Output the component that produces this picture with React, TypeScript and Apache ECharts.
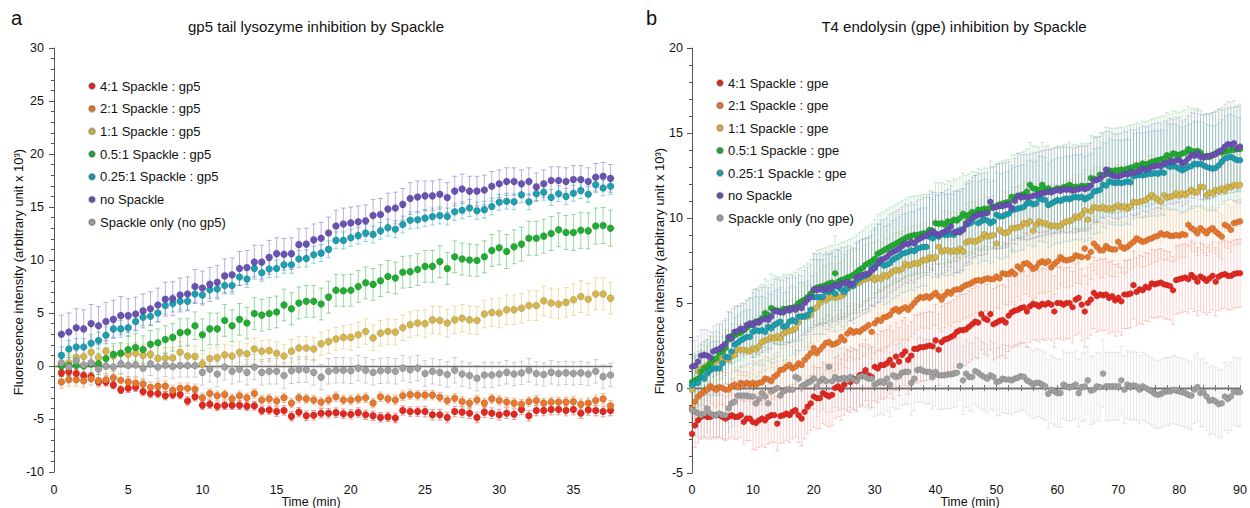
import React, { useEffect, useRef } from "react";
import * as echarts from "echarts";

const FONT = '"Liberation Sans", Arial, Helvetica, sans-serif';

const LABELS_A = ["4:1 Spackle : gp5", "2:1 Spackle : gp5", "1:1 Spackle : gp5", "0.5:1 Spackle : gp5", "0.25:1 Spackle : gp5", "no Spackle", "Spackle only (no gp5)"];
const LABELS_B = ["4:1 Spackle : gpe", "2:1 Spackle : gpe", "1:1 Spackle : gpe", "0.5:1 Spackle : gpe", "0.25:1 Spackle : gpe", "no Spackle", "Spackle only (no gpe)"];

const X_TICKS_A = [0, 5, 10, 15, 20, 25, 30, 35];
const X_TICKS_B = [0, 10, 20, 30, 40, 50, 60, 70, 80, 90];

// sampling times (min): panel a every 0.5 min from 0.5, panel b every 0.5 min from 0
const TIME_A = Array.from({ length: 75 }, (_, i) => 0.5 * (i + 1));
const TIME_B = Array.from({ length: 181 }, (_, i) => 0.5 * i);

// ---------- panel a values ----------
const A_RED = [
  -0.65, -0.55, -0.7, -0.9, -1.0, -1.5, -1.5, -1.8, -2.25, -2.1,
  -2.0, -2.4, -2.6, -2.6, -2.8, -2.7, -2.7, -3.3, -2.9, -3.7,
  -3.6, -3.8, -3.7, -3.7, -3.7, -3.8, -3.75, -4.2, -4.15, -4.3,
  -4.2, -4.75, -4.35, -4.7, -4.65, -4.45, -4.45, -4.4, -4.5, -4.55,
  -4.4, -4.6, -4.7, -4.85, -4.8, -4.9, -4.2, -4.3, -4.3, -4.3,
  -4.6, -4.6, -4.85, -4.3, -4.35, -4.45, -4.85, -4.35, -4.45, -4.6,
  -4.45, -4.55, -4.1, -4.7, -4.2, -4.2, -4.1, -4.1, -4.2, -4.1,
  -4.45, -4.15, -4.2, -4.3, -4.2,
];
const A_ORANGE = [
  -1.5, -1.3, -1.3, -1.4, -1.2, -1.4, -1.3, -1.1, -1.35, -1.5,
  -1.6, -1.7, -2.0, -1.9, -1.9, -2.3, -2.1, -2.1, -2.2, -3.0,
  -2.6, -2.8, -2.7, -3.1, -2.8, -3.0, -2.6, -3.2, -3.1, -3.3,
  -3.0, -3.5, -3.0, -3.1, -3.2, -3.4, -3.2, -2.9, -3.2, -3.2,
  -3.1, -3.0, -3.5, -2.9, -3.1, -3.2, -2.8, -2.7, -2.75, -2.75,
  -2.75, -2.95, -3.25, -3.05, -3.35, -3.5, -3.2, -3.5, -3.1, -3.25,
  -3.4, -3.5, -3.6, -3.35, -3.25, -3.5, -3.4, -3.4, -3.4, -3.35,
  -3.6, -3.5, -3.25, -3.1, -3.75,
];
const A_YELLOW = [
  0.1, 0.3, 0.8, 0.9, 1.3, 0.8, 1.4, 0.95, 1.2, 1.1,
  1.2, 1.0, 1.1, 0.7, 0.75, 0.75, 1.3, 0.95, 0.9, 0.2,
  0.7, 0.8, 1.05, 0.95, 1.3, 1.15, 1.6, 1.4, 1.45, 1.2,
  0.95, 1.4, 1.7, 1.7, 1.6, 2.1, 2.3, 2.55, 2.7, 2.7,
  2.95, 3.25, 2.65, 3.1, 3.25, 3.2, 3.6, 3.9, 4.05, 4.0,
  4.35, 4.3, 4.05, 4.35, 4.5, 4.35, 4.3, 4.9, 5.05, 5.0,
  5.3, 5.3, 5.45, 5.7, 5.7, 6.15, 5.95, 5.85, 6.0, 6.25,
  6.55, 6.3, 6.8, 6.8, 6.4,
];
const A_GREEN = [
  0.0, 0.05, 0.05, 0.0, 0.2, 0.2, 0.7, 1.1, 1.2, 1.55,
  1.75, 1.55, 2.05, 2.2, 2.5, 2.7, 3.15, 3.2, 3.8, 2.95,
  3.5, 3.5, 4.3, 3.8, 4.4, 4.05, 4.95, 4.8, 4.95, 5.1,
  5.75, 5.4, 5.95, 6.1, 6.1, 5.85, 6.5, 7.15, 7.1, 7.15,
  7.5, 7.85, 7.7, 8.05, 8.45, 8.3, 8.85, 8.9, 9.1, 9.4,
  9.4, 9.85, 9.2, 10.3, 10.1, 10.0, 9.95, 10.3, 10.9, 11.15,
  10.8, 11.25, 11.5, 12.05, 12.05, 12.25, 12.5, 12.85, 12.6, 12.6,
  12.8, 12.75, 13.2, 13.25, 13.0,
];
const A_TEAL = [
  1.0, 1.6, 1.8, 1.8, 2.15, 2.4, 2.9, 3.5, 3.5, 3.6,
  4.2, 4.6, 4.7, 5.0, 5.7, 5.9, 6.1, 6.1, 6.8, 6.7,
  7.2, 7.26, 7.6, 7.6, 8.4, 8.2, 9.2, 8.8, 9.15, 9.2,
  9.55, 9.55, 10.1, 10.15, 10.5, 10.65, 11.0, 11.85, 11.85, 12.1,
  12.3, 12.55, 12.4, 12.75, 13.05, 12.9, 13.35, 13.75, 13.8, 13.95,
  14.1, 14.2, 14.1, 14.55, 14.7, 14.9, 14.65, 14.75, 15.05, 15.45,
  15.55, 15.5, 16.15, 15.5, 16.25, 16.4, 15.9, 16.25, 16.0, 16.3,
  16.55, 16.2, 17.1, 16.8, 16.95,
];
const A_PURPLE = [
  3.0, 3.2, 3.6, 3.5, 4.0, 3.8, 4.2, 4.4, 4.75, 4.75,
  4.9, 5.2, 5.4, 5.75, 6.3, 6.35, 6.7, 6.8, 7.5, 7.35,
  7.7, 7.9, 8.5, 8.6, 9.2, 9.3, 9.8, 9.8, 10.25, 10.6,
  10.55, 10.6, 11.45, 11.5, 11.9, 12.05, 12.55, 13.2, 13.4, 13.5,
  13.6, 13.7, 14.2, 14.3, 14.8, 14.9, 15.25, 15.8, 15.95, 16.05,
  16.05, 16.2, 15.9, 16.5, 16.7, 16.5, 16.5, 16.6, 16.95, 17.2,
  17.4, 17.4, 17.2, 17.4, 16.9, 17.2, 17.5, 17.5, 17.4, 17.6,
  17.6, 17.4, 17.8, 17.9, 17.7,
];
const A_GRAY = [
  0.3, -0.1, 0.5, 0.1, 0.3, -0.3, 0.0, -0.1, 0.2, 0.05,
  0.1, -0.2, 0.2, -0.1, 0.1, -0.05, 0.05, 0.05, 0.05, -0.6,
  -0.3, -0.75, -0.1, -0.5, -0.3, -0.6, -0.1, -0.6, -0.5, -0.5,
  -0.9, -0.45, -0.35, -0.35, -0.6, -1.05, -0.5, -0.4, -0.4, -0.45,
  -0.2, -0.4, -0.6, -0.45, -0.4, -0.5, -0.2, -0.35, -0.2, -0.7,
  -0.5, -0.6, -0.8, -0.4, -0.75, -0.9, -1.15, -0.85, -0.85, -0.75,
  -0.6, -0.75, -0.65, -0.4, -0.7, -0.8, -0.6, -0.7, -0.65, -0.7,
  -0.65, -0.75, -0.5, -1.0, -0.85,
];

// panel a error (SD) read per 5-min span: 0-5,5-10,...,35-40
const A_ERR_RED = [0.35, 0.4, 0.4, 0.45, 0.45, 0.5, 0.5, 0.5];
const A_ERR_ORANGE = [0.6, 0.5, 0.45, 0.45, 0.45, 0.45, 0.45, 0.5];
const A_ERR_YELLOW = [0.9, 1.0, 1.0, 1.1, 1.2, 1.3, 1.4, 1.5];
const A_ERR_GREEN = [1.0, 1.3, 1.5, 1.5, 1.5, 1.5, 1.6, 1.7];
const A_ERR_TEAL = [0.8, 0.8, 0.8, 0.8, 0.8, 0.8, 0.75, 0.75];
const A_ERR_PURPLE = [1.8, 1.6, 1.6, 1.5, 1.5, 1.4, 1.3, 1.3];
const A_ERR_GRAY = [0.9, 1.1, 1.2, 1.2, 1.2, 1.2, 1.1, 1.1];

// ---------- panel b values ----------
const B_RED = [
  -2.7, -2.2, -1.9, -1.7, -1.6, -1.7, -1.7, -1.6, -1.6, -1.6,
  -1.7, -1.8, -1.7, -1.6, -1.7, -1.7, -1.6, -2.0, -1.8, -1.8,
  -2.0, -2.05, -1.9, -1.8, -1.9, -1.7, -1.6, -1.6, -2.1, -1.65,
  -1.6, -1.5, -1.6, -1.4, -1.3, -1.6, -1.8, -1.4, -1.1, -0.9,
  -0.5, -0.6, -0.6, -0.3, -0.4, -0.5, -0.4, 0.0, 0.1, -0.1,
  0.2, 0.45, 0.35, 0.55, 0.45, 0.75, 0.8, 1.05, 0.75, 0.65,
  1.25, 1.15, 1.35, 1.35, 1.45, 1.65, 1.35, 1.85, 1.55, 1.95,
  2.15, 1.65, 1.9, 2.3, 2.3, 2.4, 2.4, 2.45, 2.5, 2.45,
  2.8, 2.25, 2.7, 2.85, 2.9, 3.0, 3.1, 3.3, 3.4, 3.4,
  3.45, 3.6, 3.75, 3.9, 3.85, 4.35, 4.1, 4.0, 4.35, 3.75,
  3.85, 3.95, 4.0, 3.85, 4.25, 4.45, 4.55, 4.6, 4.7, 4.75,
  4.5, 4.8, 4.95, 4.9, 4.8, 4.95, 4.9, 5.0, 4.9, 4.5,
  5.0, 5.0, 4.9, 5.0, 5.0, 4.75, 5.2, 5.3, 4.9, 4.5,
  5.0, 5.2, 5.6, 5.4, 5.5, 5.45, 5.5, 5.3, 5.4, 5.15,
  5.3, 5.1, 5.5, 5.5, 5.55, 6.05, 5.65, 5.8, 5.75, 5.95,
  5.9, 6.15, 6.1, 6.15, 6.2, 6.1, 6.05, 6.0, 5.75, 6.35,
  6.4, 6.45, 6.5, 6.4, 6.65, 6.5, 6.25, 6.55, 6.45, 6.3,
  6.45, 6.6, 6.25, 6.55, 6.65, 6.7, 6.6, 6.6, 6.7, 6.75,
  6.75,
];
const B_ORANGE = [
  -1.2, -0.8, -0.5, -0.35, -0.2, -0.1, 0.1, 0.0, -0.1, 0.05,
  0.0, -0.1, -0.1, 0.1, 0.2, 0.05, 0.3, 0.2, 0.3, 0.2,
  0.3, 0.2, 0.3, 0.35, 0.55, 0.5, 0.4, 0.65, 0.8, 1.05,
  1.1, 1.25, 1.35, 1.15, 1.25, 1.45, 1.35, 1.65, 1.85, 2.05,
  2.35, 2.05, 2.25, 2.45, 2.65, 2.7, 2.55, 2.6, 2.7, 3.0,
  2.8, 3.2, 3.4, 3.25, 3.35, 3.3, 3.45, 3.55, 3.7, 3.3,
  3.8, 4.0, 3.95, 4.15, 4.2, 4.3, 4.55, 4.65, 4.5, 4.65,
  4.75, 4.6, 4.8, 5.0, 5.2, 5.35, 5.3, 5.4, 5.3, 5.45,
  5.6, 5.4, 5.2, 5.45, 5.65, 5.55, 5.75, 5.8, 5.8, 5.95,
  6.05, 6.1, 6.2, 6.3, 6.35, 6.3, 6.4, 6.45, 6.4, 6.4,
  6.55, 6.45, 6.75, 6.7, 6.7, 6.85, 6.7, 7.15, 7.0, 7.3,
  7.35, 7.2, 7.0, 7.1, 7.35, 7.45, 7.35, 7.45, 7.1, 7.3,
  7.45, 7.7, 7.55, 7.5, 7.55, 7.6, 7.8, 7.75, 7.7, 8.2,
  7.7, 8.0, 8.5, 8.3, 8.1, 8.1, 8.35, 8.2, 8.15, 8.15,
  8.6, 8.3, 8.2, 8.3, 8.45, 8.6, 8.8, 8.7, 8.6, 8.65,
  8.75, 8.8, 8.9, 8.95, 9.1, 9.0, 9.05, 8.95, 8.95, 9.0,
  8.95, 9.05, 9.0, 9.6, 9.4, 9.3, 9.1, 9.4, 9.25, 9.1,
  9.3, 9.4, 9.2, 9.05, 8.9, 9.6, 9.5, 9.3, 9.7, 9.75,
  9.8,
];
const B_YELLOW = [
  -0.1, 0.35, 0.95, 1.15, 1.25, 1.35, 1.55, 1.5, 1.55, 1.75,
  1.65, 1.75, 1.65, 1.85, 1.95, 2.25, 2.25, 2.25, 2.2, 2.15,
  2.35, 2.25, 2.45, 2.7, 2.8, 2.85, 3.0, 2.9, 3.05, 2.9,
  3.2, 3.3, 3.35, 3.4, 3.5, 3.85, 4.2, 4.25, 4.2, 4.3,
  4.65, 4.75, 5.0, 5.2, 5.15, 5.3, 5.35, 5.3, 5.35, 5.4,
  5.55, 5.85, 5.95, 6.05, 6.15, 6.2, 6.35, 6.4, 6.45, 6.55,
  6.35, 6.5, 6.4, 6.65, 6.55, 6.7, 6.85, 6.95, 6.9, 7.0,
  7.3, 7.2, 7.25, 7.35, 7.3, 7.4, 7.55, 7.5, 7.7, 7.6,
  7.7, 8.3, 8.0, 8.1, 8.1, 8.0, 8.1, 8.0, 8.2, 8.05,
  8.55, 8.65, 8.65, 8.6, 8.7, 8.8, 9.05, 8.9, 8.95, 9.0,
  8.5, 9.3, 9.15, 9.1, 9.2, 9.4, 9.4, 9.45, 9.5, 9.7,
  9.65, 9.8, 9.25, 9.6, 9.8, 9.7, 9.7, 9.6, 9.5, 9.55,
  9.5, 9.55, 9.7, 9.8, 9.8, 9.9, 10.1, 10.0, 10.2, 10.45,
  9.9, 10.4, 10.65, 10.6, 10.55, 10.65, 10.5, 10.6, 10.5, 10.65,
  10.75, 10.6, 10.7, 10.55, 10.7, 10.95, 10.9, 10.95, 11.0, 11.05,
  11.2, 11.35, 11.2, 11.1, 10.95, 11.35, 11.2, 11.25, 11.3, 11.45,
  11.3, 11.45, 11.35, 11.5, 11.65, 11.5, 11.55, 11.85, 11.8, 11.35,
  11.5, 11.45, 11.65, 11.6, 11.75, 11.6, 11.85, 11.8, 11.95, 11.9,
  11.95,
];
const B_GREEN = [
  0.35, 0.45, 0.55, 0.95, 1.15, 1.25, 1.45, 1.65, 1.75, 2.05,
  2.15, 2.35, 2.85, 3.05, 3.1, 3.2, 3.25, 3.4, 3.55, 3.7,
  3.8, 3.85, 3.95, 4.1, 4.4, 4.3, 4.7, 4.6, 4.55, 4.5,
  4.65, 4.65, 4.7, 4.7, 4.8, 5.0, 5.1, 5.2, 5.35, 5.55,
  5.75, 5.9, 5.95, 6.0, 6.05, 6.15, 6.2, 6.75, 6.25, 6.35,
  6.4, 6.5, 6.55, 6.65, 6.8, 6.95, 7.05, 7.25, 7.35, 7.45,
  7.6, 7.9, 8.0, 8.1, 8.2, 8.3, 8.4, 8.5, 8.6, 8.7,
  8.8, 8.9, 8.95, 9.0, 9.0, 9.05, 9.1, 9.1, 9.3, 9.25,
  9.7, 9.65, 9.7, 9.6, 9.8, 9.75, 9.9, 9.85, 10.0, 10.25,
  10.1, 10.2, 10.35, 10.3, 10.5, 10.45, 10.55, 10.5, 10.6, 10.65,
  10.7, 10.8, 10.85, 10.9, 10.95, 11.25, 11.2, 11.3, 11.35, 11.4,
  11.55, 11.95, 11.75, 11.7, 11.65, 11.95, 11.7, 11.75, 11.6, 11.65,
  11.75, 11.7, 11.8, 11.85, 11.95, 11.8, 11.85, 11.75, 11.9, 11.85,
  11.9, 12.35, 12.3, 12.25, 12.55, 12.5, 12.6, 12.8, 12.75, 12.8,
  12.8, 12.85, 12.8, 12.9, 12.95, 13.0, 13.1, 13.05, 13.2, 13.15,
  13.2, 13.3, 13.35, 13.4, 13.45, 13.5, 13.7, 13.6, 13.8, 13.75,
  13.7, 13.8, 13.85, 14.05, 13.95, 13.9, 13.95, 13.85, 13.6, 13.65,
  13.6, 13.7, 13.8, 13.9, 13.85, 13.9, 13.95, 14.0, 14.0, 14.05,
  14.05,
];
const B_TEAL = [
  0.15, 0.3, 0.3, 0.65, 0.55, 0.85, 1.05, 1.15, 1.15, 1.15,
  1.45, 1.85, 1.8, 2.15, 2.55, 2.65, 2.8, 2.9, 3.0, 3.0,
  3.3, 3.4, 3.35, 3.4, 3.3, 3.6, 3.5, 3.7, 3.8, 3.9,
  3.6, 3.65, 3.9, 4.0, 3.9, 4.2, 4.2, 4.2, 4.3, 4.6,
  5.35, 5.35, 5.35, 5.35, 5.65, 5.65, 5.75, 5.55, 5.95, 5.8,
  5.65, 5.85, 6.15, 6.0, 6.3, 6.45, 6.55, 6.6, 6.7, 7.05,
  7.15, 7.3, 7.35, 7.2, 7.25, 7.35, 7.55, 7.65, 7.75, 7.9,
  7.95, 8.0, 8.1, 8.05, 8.2, 8.25, 8.3, 8.3, 8.9, 8.8,
  8.95, 8.9, 9.1, 9.0, 9.0, 9.05, 9.0, 9.2, 9.3, 9.35,
  9.7, 9.65, 9.75, 10.1, 9.7, 9.8, 9.9, 9.85, 9.7, 9.8,
  10.2, 10.1, 10.1, 10.2, 10.25, 10.45, 10.5, 10.55, 10.6, 10.65,
  10.85, 10.9, 10.8, 10.85, 11.15, 11.1, 11.05, 10.75, 10.85, 10.95,
  11.05, 11.0, 11.1, 11.15, 11.1, 11.2, 11.25, 11.2, 11.25, 11.1,
  11.2, 11.3, 11.55, 11.6, 11.65, 11.95, 11.9, 12.15, 12.1, 12.05,
  12.1, 12.05, 12.1, 12.15, 12.1, 12.45, 12.5, 12.55, 12.5, 12.55,
  12.6, 12.6, 12.65, 12.6, 12.7, 12.65, 13.1, 13.0, 13.05, 13.0,
  12.9, 12.8, 12.9, 13.0, 13.05, 13.2, 13.15, 13.2, 13.1, 13.0,
  12.95, 12.9, 12.95, 13.1, 13.3, 13.5, 13.55, 13.6, 13.5, 13.4,
  13.4,
];
const B_PURPLE = [
  1.25, 1.3, 1.55, 1.9, 1.95, 1.9, 1.8, 2.15, 2.25, 2.3,
  2.45, 2.6, 3.0, 2.9, 3.3, 3.35, 3.5, 3.45, 3.7, 3.8,
  3.7, 3.9, 3.85, 4.0, 4.1, 4.0, 4.2, 4.5, 4.5, 4.45,
  4.45, 4.6, 4.55, 4.7, 4.6, 4.75, 4.7, 5.0, 5.2, 5.35,
  5.8, 5.75, 5.85, 5.75, 5.9, 5.8, 5.95, 6.05, 6.0, 6.15,
  6.15, 6.25, 6.05, 6.15, 6.5, 6.55, 6.65, 6.7, 6.75, 6.9,
  7.05, 7.35, 7.55, 7.6, 7.7, 7.9, 8.0, 8.1, 8.2, 8.35,
  8.5, 8.45, 8.6, 8.5, 8.7, 8.8, 8.9, 8.95, 9.1, 9.2,
  9.1, 9.0, 9.1, 9.2, 9.3, 9.5, 9.15, 9.2, 9.15, 9.3,
  9.6, 9.8, 10.0, 10.1, 10.2, 10.2, 10.25, 10.3, 10.95, 10.6,
  10.65, 10.7, 10.7, 10.75, 10.8, 10.6, 11.0, 11.3, 11.2, 11.25,
  11.2, 11.25, 11.3, 11.35, 11.4, 11.45, 11.5, 11.55, 11.5, 11.6,
  11.65, 11.6, 11.7, 11.65, 11.7, 11.6, 11.65, 11.7, 11.75, 11.7,
  11.75, 11.9, 12.2, 12.25, 12.3, 12.5, 12.85, 12.6, 12.5, 12.45,
  12.45, 12.5, 12.6, 12.55, 12.7, 12.65, 12.7, 12.8, 12.9, 12.85,
  12.9, 13.0, 13.05, 13.1, 13.05, 13.2, 13.25, 13.35, 13.3, 13.4,
  13.4, 13.2, 13.3, 13.5, 13.7, 13.65, 13.8, 13.6, 13.55, 13.6,
  13.65, 13.7, 13.75, 13.9, 14.0, 14.2, 14.35, 14.3, 14.4, 14.1,
  14.2,
];
const B_GRAY = [
  -1.3, -1.4, -1.5, -1.6, -1.5, -1.2, -1.5, -1.6, -1.6, -1.5,
  -1.6, -1.6, -1.2, -0.9, -0.8, -0.45, -0.45, -0.45, -0.45, -0.5,
  -0.5, -0.9, -0.65, -0.3, -0.5, -0.9, -0.2, -0.1, 0.0, -0.45,
  -0.2, -0.1, -0.1, -0.1, 0.65, 0.55, 0.1, 0.2, 0.3, 0.4,
  0.55, 0.1, 0.4, 0.55, 0.4, 1.25, 0.4, 0.65, 0.5, 0.55,
  0.6, 0.45, 0.65, 0.5, 0.4, 0.65, 0.7, 0.65, 0.55, 0.55,
  0.2, 0.3, 0.4, 0.3, 0.55, 0.2, 0.75, 0.65, 0.7, 0.9,
  0.95, 0.95, 0.3, 0.55, 1.05, 1.1, 1.0, 0.95, 0.95, 0.65,
  0.95, 0.75, 0.75, 0.75, 0.8, 0.8, 0.85, 0.9, 1.3, 0.45,
  0.85, 0.65, 0.65, 1.0, 0.9, 0.75, 0.65, 0.55, 0.75, 0.65,
  0.35, 0.4, 0.55, 0.5, 0.5, 0.45, 0.55, 0.6, 0.7, 0.65,
  0.45, 0.35, 0.2, 0.3, 0.3, 0.2, 0.1, -0.35, -0.1, -0.2,
  -0.3, -0.3, 0.2, 0.1, 0.05, 0.1, 0.2, -0.3, 0.05, 0.1,
  0.45, -0.15, -0.1, 0.1, 0.05, 0.85, 0.1, 0.1, 0.1, 0.1,
  0.1, 0.45, -0.1, 0.2, 0.1, 0.15, 0.1, -0.1, 0.1, 0.0,
  -0.1, -0.2, -0.35, -0.4, -0.35, -0.25, -0.2, -0.2, -0.1, -0.15,
  -0.2, -0.25, -0.3, -0.4, -0.45, -0.1, 0.05, -0.3, -0.25, -0.5,
  -0.75, -0.7, -0.8, -0.95, -0.9, -0.5, -0.65, -0.5, -0.2, -0.25,
  -0.25,
];

// panel b error (SD) read per 10-min span: 0-10,...,80-90
const B_ERR_RED = [1.3, 1.6, 1.8, 2.0, 2.1, 2.1, 2.1, 2.0, 2.0, 2.0];
const B_ERR_ORANGE = [1.0, 1.3, 1.6, 1.8, 1.9, 1.8, 1.6, 1.5, 1.3, 1.3];
const B_ERR_YELLOW = [1.5, 1.8, 2.0, 2.2, 2.3, 2.4, 2.4, 2.4, 2.4, 2.4];
const B_ERR_GREEN = [1.6, 2.0, 2.2, 2.3, 2.4, 2.5, 2.5, 2.5, 2.5, 2.5];
const B_ERR_TEAL = [1.6, 2.0, 2.2, 2.3, 2.4, 2.5, 2.5, 2.5, 2.5, 2.5];
const B_ERR_PURPLE = [1.5, 1.9, 2.1, 2.3, 2.4, 2.5, 2.5, 2.5, 2.5, 2.5];
const B_ERR_GRAY = [1.4, 1.6, 1.8, 1.9, 2.0, 2.0, 2.0, 2.0, 2.0, 2.0];

const COLORS = ["#e3281f", "#e8782d", "#d6b64b", "#20ad31", "#1c9fb0", "#6a51b4", "#a0a0a0"];
const BAR_RGB = ["227,40,31", "232,120,45", "214,182,75", "32,173,49", "28,159,176", "106,81,180", "150,150,150"];

const SERIES_A = [A_RED, A_ORANGE, A_YELLOW, A_GREEN, A_TEAL, A_PURPLE, A_GRAY];
const ERRS_A = [A_ERR_RED, A_ERR_ORANGE, A_ERR_YELLOW, A_ERR_GREEN, A_ERR_TEAL, A_ERR_PURPLE, A_ERR_GRAY];
const SERIES_B = [B_RED, B_ORANGE, B_YELLOW, B_GREEN, B_TEAL, B_PURPLE, B_GRAY];
const ERRS_B = [B_ERR_RED, B_ERR_ORANGE, B_ERR_YELLOW, B_ERR_GREEN, B_ERR_TEAL, B_ERR_PURPLE, B_ERR_GRAY];

function errorBars(name: string, data: number[][], xIdx: number, yIdx: number, color: string, cap: number) {
  return {
    type: "custom",
    name,
    xAxisIndex: xIdx,
    yAxisIndex: yIdx,
    silent: true,
    z: 1,
    data,
    encode: { x: 0, y: 1 },
    renderItem: (_params: any, api: any) => {
      const x = api.value(0);
      const y = api.value(1);
      const e = api.value(2);
      const top = api.coord([x, y + e]);
      const bot = api.coord([x, y - e]);
      const style = { stroke: color, lineWidth: 1 };
      return {
        type: "group",
        children: [
          { type: "line", shape: { x1: top[0], y1: top[1], x2: bot[0], y2: bot[1] }, style },
          { type: "line", shape: { x1: top[0] - cap, y1: top[1], x2: top[0] + cap, y2: top[1] }, style },
          { type: "line", shape: { x1: bot[0] - cap, y1: bot[1], x2: bot[0] + cap, y2: bot[1] }, style },
        ],
      };
    },
  };
}

function buildOption() {
  const series: any[] = [];
  const textStyle = { fontFamily: FONT, color: "#111" };

  SERIES_A.forEach((vals, k) => {
    const data = vals.map((v, i) => {
      const t = TIME_A[i];
      const e = ERRS_A[k][Math.min(7, Math.floor(t / 5))];
      return [t, v, e];
    });
    series.push(errorBars("errA" + k, data, 0, 0, `rgba(${BAR_RGB[k]},0.45)`, 2.5));
  });
  SERIES_B.forEach((vals, k) => {
    const data = vals.map((v, i) => {
      const t = TIME_B[i];
      const e = ERRS_B[k][Math.min(9, Math.floor(t / 10))];
      return [t, v, e];
    });
    series.push(errorBars("errB" + k, data, 2, 1, `rgba(${BAR_RGB[k]},0.22)`, 2));
  });
  SERIES_A.forEach((vals, k) => {
    series.push({
      type: "scatter",
      name: LABELS_A[k],
      xAxisIndex: 0,
      yAxisIndex: 0,
      z: 3,
      symbol: "circle",
      symbolSize: 7,
      data: vals.map((v, i) => [TIME_A[i], v]),
      itemStyle: { color: COLORS[k], borderColor: "rgba(0,0,0,0.25)", borderWidth: 0.5, opacity: 1 },
    });
  });
  SERIES_B.forEach((vals, k) => {
    series.push({
      type: "scatter",
      name: LABELS_B[k],
      xAxisIndex: 2,
      yAxisIndex: 1,
      z: 3,
      symbol: "circle",
      symbolSize: 6,
      data: vals.map((v, i) => [TIME_B[i], v]),
      itemStyle: { color: COLORS[k], borderColor: "rgba(0,0,0,0.25)", borderWidth: 0.5, opacity: 1 },
    });
  });

  const axisColor = "#555";
  const labelAxis = (grid: number, max: number, ticks: number[], margin: number) => ({
    type: "value",
    gridIndex: grid,
    min: 0,
    max,
    position: "bottom",
    axisLine: { show: false, onZero: false },
    axisTick: { show: false },
    splitLine: { show: false },
    axisLabel: { customValues: ticks, fontSize: 12.5, margin, ...textStyle },
  });
  const zeroAxis = (grid: number, max: number, yIdx: number, ticks: boolean, inside: boolean) => ({
    type: "value",
    gridIndex: grid,
    min: 0,
    max,
    interval: 2,
    position: "bottom",
    axisLine: { show: true, onZero: true, onZeroAxisIndex: yIdx, lineStyle: { color: "#6e6e6e", width: 1.3 } },
    axisTick: { show: ticks, inside, length: 3, lineStyle: { color: "#6e6e6e" } },
    axisLabel: { show: false },
    splitLine: { show: false },
  });
  const yAxis = (grid: number, min: number, max: number, margin: number) => ({
    type: "value",
    gridIndex: grid,
    min,
    max,
    interval: 5,
    axisLine: { show: true, onZero: false, lineStyle: { color: axisColor, width: 1 } },
    axisTick: { show: true, length: 5, lineStyle: { color: axisColor } },
    minorTick: { show: true, splitNumber: 5, length: 3, lineStyle: { color: axisColor } },
    splitLine: { show: false },
    minorSplitLine: { show: false },
    axisLabel: { fontSize: 12.5, margin, ...textStyle },
  });

  const legendBase = {
    orient: "vertical",
    itemWidth: 6,
    itemHeight: 6,
    icon: "circle",
    padding: 0,
    selectedMode: false,
    textStyle: { fontSize: 13, lineHeight: 16, fontFamily: FONT, color: "#111" },
  };

  const yName = "Fluorescence intensity (arbitrary unit x 10³)";
  const txt = (text: string, x: number, y: number, size: number, align = "left", rotation = 0) => ({
    type: "text",
    x,
    y,
    rotation,
    silent: true,
    style: { text, fontSize: size, fontFamily: FONT, fill: "#111", align, verticalAlign: "middle" },
  });

  return {
    animation: false,
    backgroundColor: "#ffffff",
    grid: [
      { left: 54, top: 48, width: 558, height: 424 },
      { left: 692, top: 48, width: 555, height: 425 },
    ],
    xAxis: [
      labelAxis(0, 37.6, X_TICKS_A, 11),
      zeroAxis(0, 37.6, 0, false, false),
      labelAxis(1, 90, X_TICKS_B, 10),
      zeroAxis(1, 90, 1, true, false),
      zeroAxis(1, 90, 1, true, true),
    ],
    yAxis: [yAxis(0, -10, 30, 10), yAxis(1, -5, 20, 9)],
    legend: [
      { ...legendBase, data: LABELS_A, left: 88, top: 78, itemGap: 6.7 },
      { ...legendBase, data: LABELS_B, left: 716, top: 75, itemGap: 6.5 },
    ],
    graphic: [
      txt("a", 11, 17.5, 20),
      txt("b", 646, 17.5, 20),
      txt("gp5 tail lysozyme inhibition by Spackle", 316, 26, 15, "center"),
      txt("T4 endolysin (gpe) inhibition by Spackle", 954, 26, 15, "center"),
      txt(yName, 18, 272, 13, "center", Math.PI / 2),
      txt(yName, 659, 271, 13, "center", Math.PI / 2),
      txt("Time (min)", 311, 502, 12.5, "center"),
      txt("Time (min)", 970, 502, 12.5, "center"),
    ],
    series,
  };
}

export default function App() {
  const ref = useRef<HTMLDivElement>(null);
  useEffect(() => {
    if (!ref.current) return;
    const chart = echarts.init(ref.current, undefined, { renderer: "svg" });
    chart.setOption(buildOption() as any);
    return () => chart.dispose();
  }, []);
  return (
    <div
      ref={ref}
      style={{ position: "absolute", left: 0, top: 0, width: 1250, height: 508, background: "#fff" }}
    />
  );
}
